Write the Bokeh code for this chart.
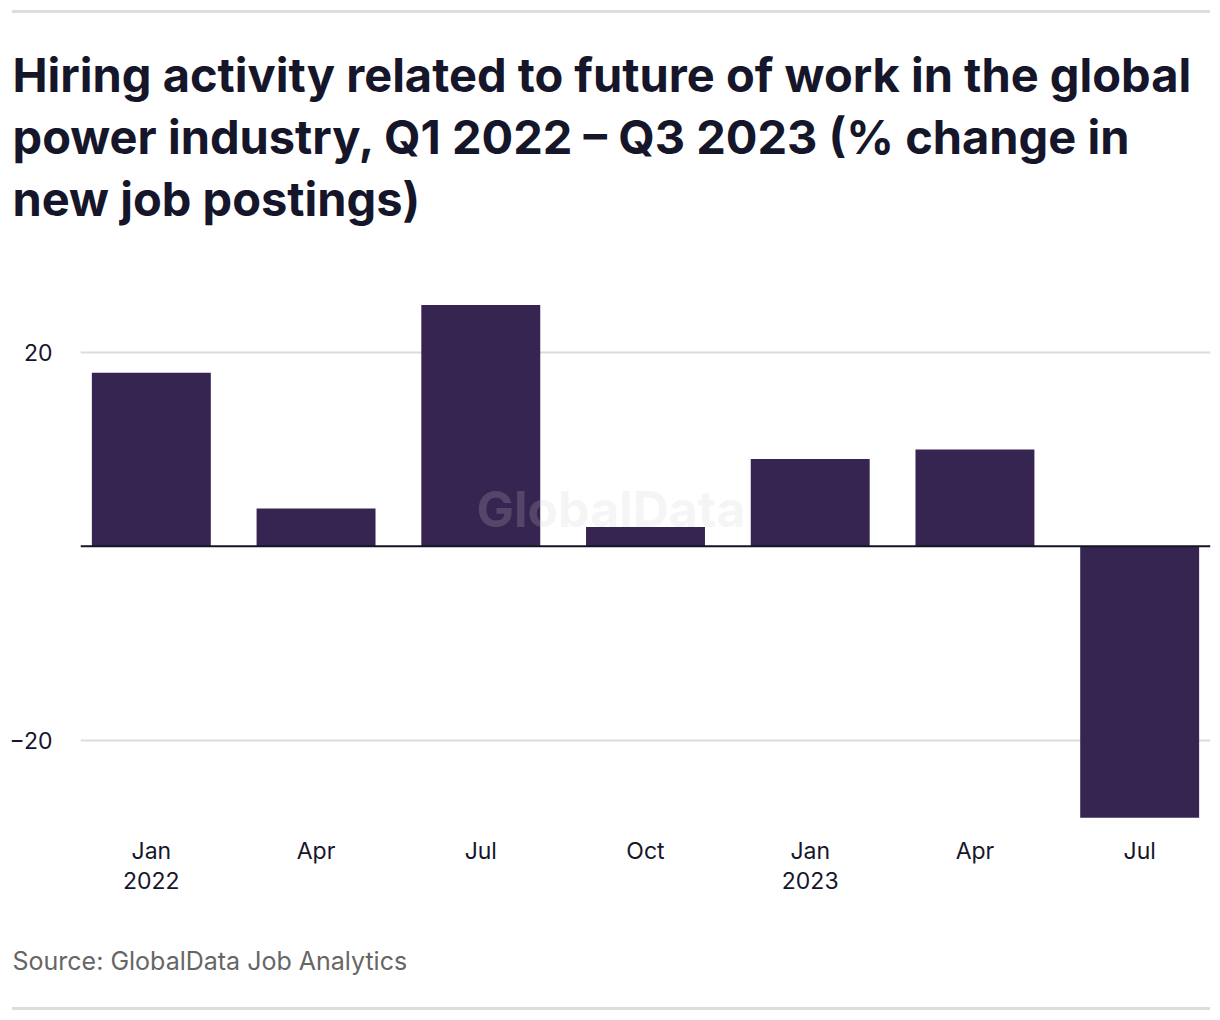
from bokeh.plotting import figure
from bokeh.models import Range1d, FixedTicker, Span, Label, Title, Div, ColumnDataSource
from bokeh.layouts import column
from bokeh.embed import file_html
from bokeh.resources import INLINE

# ---- data ----
quarters = ["Jan\n2022", "Apr", "Jul", "Oct", "Jan\n2023", "Apr", "Jul"]
values = [17.9, 3.9, 24.9, 2.0, 9.0, 10.0, -28.0]
y_ticks = [-20, 20]
y_tick_labels = ["\u221220", "20"]
title_lines = ["Hiring activity related to future of work in the global",
               "power industry, Q1 2022 \u2013 Q3 2023 (% change in",
               "new job postings)"]
source_text = "Source: GlobalData Job Analytics"

BAR = "#362451"
INK = "#16162b"
FONT = "Inter"

TOP0 = 13                      # page y where the figure canvas starts
W, H = 1214, 1007 - TOP0
FL = 80
FT = 289 - TOP0
FB = 822 - TOP0
p = figure(width=W, height=H, output_backend="svg", toolbar_location=None,
           x_range=Range1d(-0.43, 6.43), y_range=Range1d(-28.5, 26.5),
           min_border_left=FL, min_border_right=W - 1210, min_border_top=FT,
           min_border_bottom=H - FB)
p.outline_line_color = None
p.background_fill_color = "white"
p.border_fill_color = "white"

xs = list(range(len(quarters)))
src = ColumnDataSource(dict(x=xs, top=values))
p.vbar(x="x", top="top", bottom=0, width=0.722, source=src,
       fill_color=BAR, line_color=None)

# axes
p.xaxis.ticker = FixedTicker(ticks=xs)
p.xaxis.major_label_overrides = {i: q for i, q in zip(xs, quarters)}
p.yaxis.ticker = FixedTicker(ticks=y_ticks)
p.yaxis.major_label_overrides = {t: l for t, l in zip(y_ticks, y_tick_labels)}
for ax in (p.xaxis, p.yaxis):
    ax.axis_line_color = None
    ax.major_tick_line_color = None
    ax.minor_tick_line_color = None
    ax.major_label_text_font = FONT
    ax.major_label_text_font_size = "23px"
    ax.major_label_text_color = INK
p.yaxis.major_label_standoff = 22
p.xaxis.major_label_standoff = 8
p.xaxis.major_label_text_line_height = 1.08
p.xgrid.grid_line_color = None
p.ygrid.ticker = FixedTicker(ticks=y_ticks)
p.ygrid.grid_line_color = "#dcdcdc"
p.ygrid.grid_line_width = 2

p.add_layout(Span(location=0, dimension="width", line_color="#141426", line_width=2))

# watermark
p.add_layout(Label(x=2.79, y=3.8, text="GlobalData", text_align="center",
                   text_baseline="middle", text_font=FONT, text_font_style="bold",
                   text_font_size="50px", text_color="#cccccc", text_alpha=0.2))

# title (trailing empty line keeps a gap above the plot) and source
p.add_layout(Title(text="\n".join(title_lines) + "\n", align="left", offset=12 - FL,
                   standoff=0, text_font=FONT, text_font_style="bold",
                   text_font_size="47px", text_color=INK, text_line_height=1.09), "above")
p.add_layout(Title(text="\n" + source_text, align="left", offset=12 - FL, standoff=32,
                   text_font=FONT, text_font_style="normal", text_font_size="25px",
                   text_color="#666666", text_line_height=1.0), "below")

def rule(top_margin):
    return Div(width=1198, height=3, margin=(top_margin, 0, 0, 12),
               styles={"background-color": "#dddddd"})

layout = column(rule(10), p, rule(0), spacing=0)

open("out.html", "w").write(file_html(layout, INLINE))
